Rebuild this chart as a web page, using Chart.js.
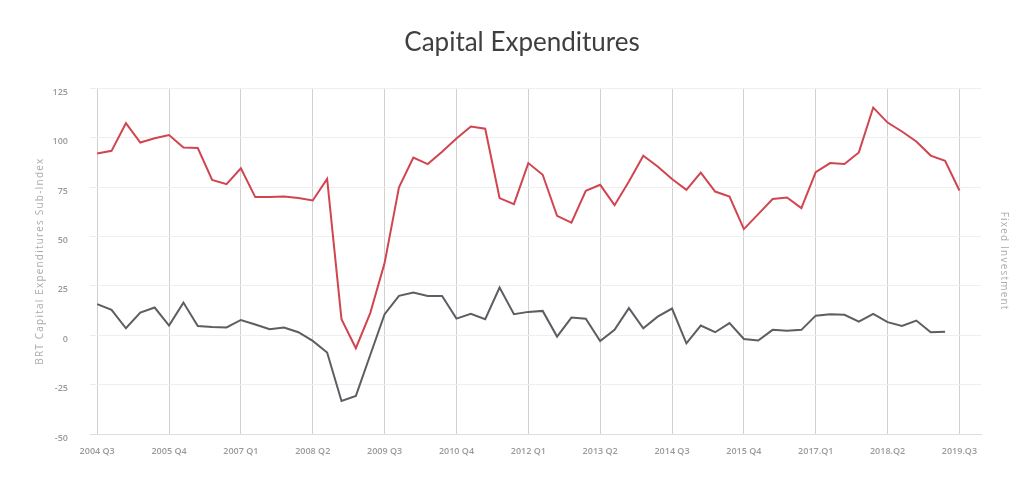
<!DOCTYPE html>
<html>
<head>
<meta charset="utf-8">
<style>
  html, body { margin: 0; padding: 0; background: #fff; }
  #wrap { width: 1023px; height: 488px; }
</style>
<script src="https://cdn.jsdelivr.net/npm/chart.js@4/dist/chart.umd.min.js"></script>
</head>
<body>
<div id="wrap"><canvas id="capex"></canvas></div>
<script>
// quarters, 2004 Q3 .. 2019 Q3 plus one empty slot at the end
const quarters = [
  '2004 Q3', '2004 Q4',
  '2005 Q1', '2005 Q2', '2005 Q3', '2005 Q4',
  '2006 Q1', '2006 Q2', '2006 Q3', '2006 Q4',
  '2007 Q1', '2007 Q2', '2007 Q3', '2007 Q4',
  '2008 Q1', '2008 Q2', '2008 Q3', '2008 Q4',
  '2009 Q1', '2009 Q2', '2009 Q3', '2009 Q4',
  '2010 Q1', '2010 Q2', '2010 Q3', '2010 Q4',
  '2011 Q1', '2011 Q2', '2011 Q3', '2011 Q4',
  '2012 Q1', '2012 Q2', '2012 Q3', '2012 Q4',
  '2013 Q1', '2013 Q2', '2013 Q3', '2013 Q4',
  '2014 Q1', '2014 Q2', '2014 Q3', '2014 Q4',
  '2015 Q1', '2015 Q2', '2015 Q3', '2015 Q4',
  '2016 Q1', '2016 Q2', '2016 Q3', '2016 Q4',
  '2017.Q1', '2017.Q2', '2017.Q3', '2017.Q4',
  '2018.Q1', '2018.Q2', '2018.Q3', '2018.Q4',
  '2019.Q1', '2019.Q2', '2019.Q3', '2019.Q4'
];

// BRT Capital Expenditures Sub-Index (red)
const capexIndex = [
  92, 93.3, 107.3, 97.5, 99.7, 101.3, 95, 94.7, 78.6, 76.4,
  84.5, 69.9, 69.9, 70.2, 69.4, 68.2, 79.1, 8.1, -6.6, 11.2,
  36.5, 74.9, 89.9, 86.6, 92.8, 99.5, 105.6, 104.5, 69.4, 66.3,
  87.1, 81.2, 60.4, 57, 73.1, 76.1, 65.8, 77.8, 90.8, 85.4,
  79, 73.6, 82.3, 72.7, 70.2, 53.7, 61.3, 68.9, 69.7, 64.3,
  82.5, 87.1, 86.6, 92.5, 115.2, 107.6, 103.1, 98, 90.9, 88.3,
  73.2, null
];

// Fixed investment (gray)
const fixedInvestment = [
  15.7, 12.8, 3.5, 11.4, 14, 4.9, 16.5, 4.7, 4.2, 3.9,
  7.7, 5.4, 3, 3.9, 1.5, -2.9, -8.8, -33.3, -30.7, -10,
  10.6, 19.9, 21.6, 19.9, 19.9, 8.4, 10.8, 8.1, 24.1, 10.6,
  11.8, 12.3, -0.7, 8.9, 8.3, -2.9, 2.7, 13.7, 3.5, 9.4,
  13.5, -4.1, 4.9, 1.5, 6.1, -1.9, -2.7, 2.7, 2.2, 2.7,
  9.9, 10.6, 10.3, 6.9, 10.8, 6.6, 4.7, 7.4, 1.5, 1.8,
  null, null
];

const yTicks = [-50, -25, 0, 25, 50, 75, 100, 125];

// axis titles in the reference are letter-spaced
const spacedTitles = {
  id: 'spacedTitles',
  afterLayout(chart) {
    ['y', 'y2'].forEach(function (id) {
      const scale = chart.scales[id];
      if (!scale || scale._spaced) return;
      const orig = scale.drawTitle;
      scale.drawTitle = function () {
        const ctx = this.ctx;
        ctx.save();
        ctx.letterSpacing = '1.2px';
        orig.apply(this, arguments);
        ctx.restore();
      };
      scale._spaced = true;
    });
  }
};

const ctx = document.getElementById('capex').getContext('2d');
new Chart(ctx, {
  type: 'line',
  data: {
    labels: quarters,
    datasets: [{
      label: 'BRT Capital Expenditures Sub-Index',
      data: capexIndex,
      borderColor: '#d0454f',
      borderWidth: 2,
      pointRadius: 0,
      tension: 0,
      yAxisID: 'y'
    }, {
      label: 'Fixed Investment',
      data: fixedInvestment,
      borderColor: '#5b5e62',
      borderWidth: 2,
      pointRadius: 0,
      tension: 0,
      yAxisID: 'y'
    }]
  },
  options: {
    responsive: true,
    maintainAspectRatio: false,
    animation: false,
    layout: { padding: { left: 34, right: 13, top: 0, bottom: 19 } },
    plugins: {
      legend: { display: false },
      tooltip: { enabled: false },
      title: {
        display: true,
        text: 'Capital Expenditures',
        color: '#3f3f3f',
        font: { family: 'Lato', size: 26, weight: 'normal' },
        padding: { top: 27, bottom: 30 }
      }
    },
    scales: {
      x: {
        offset: true,
        afterFit: function (axis) { axis.height = 35; },
        grid: {
          offset: false,
          drawTicks: false,
          color: function (c) { return c.index % 5 === 0 ? '#d0d0d0' : 'rgba(0,0,0,0)'; },
          lineWidth: 1
        },
        border: { color: '#dddddd' },
        ticks: {
          autoSkip: false,
          maxRotation: 0,
          padding: 12,
          color: '#9a9a9a',
          font: { family: 'Open Sans', size: 9, weight: '600' },
          callback: function (v, i) { return i % 5 === 0 ? quarters[i] : ''; }
        }
      },
      y: {
        min: -50,
        max: 125,
        afterBuildTicks: function (axis) { axis.ticks = yTicks.map(function (v) { return { value: v }; }); },
        afterFit: function (axis) { axis.width = 56; },
        grid: { color: '#eeeeee', drawTicks: false },
        border: { display: false },
        ticks: {
          padding: 22,
          labelOffset: 4,
          color: '#9a9a9a',
          font: { family: 'Open Sans', size: 9, weight: '600' }
        },
        title: {
          display: true,
          text: 'BRT Capital Expenditures Sub-Index',
          color: '#aaaaaa',
          font: { family: 'Open Sans', size: 10 },
          padding: { top: 0, bottom: 6 }
        }
      },
      y2: {
        display: true,
        position: 'right',
        min: -50,
        max: 125,
        grid: { display: false, drawTicks: false },
        border: { display: false },
        ticks: { display: false },
        title: {
          display: true,
          text: 'Fixed Investment',
          color: '#aaaaaa',
          font: { family: 'Open Sans', size: 10 },
          padding: { top: 0, bottom: 17 }
        }
      }
    }
  },
  plugins: [spacedTitles]
});
</script>
</body>
</html>
